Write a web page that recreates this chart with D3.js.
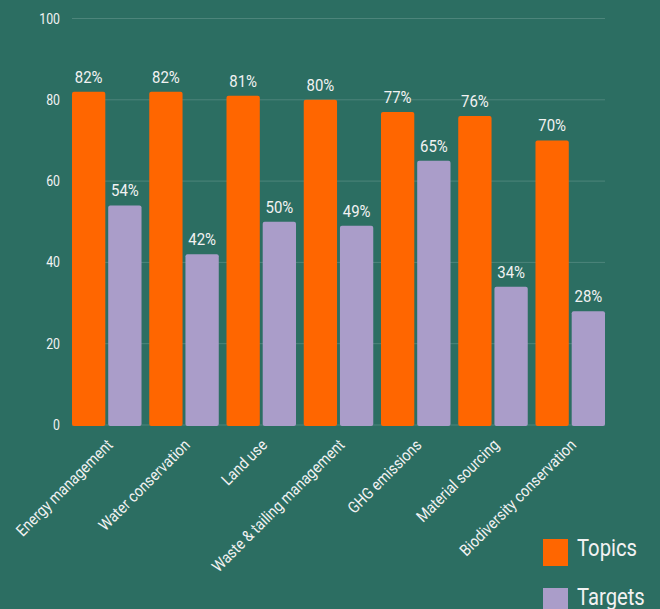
<!DOCTYPE html>
<html>
<head>
<meta charset="utf-8">
<script src="https://cdn.jsdelivr.net/npm/d3@7"></script>
<style>
  html, body { margin: 0; padding: 0; background: #2c6e62; }
  svg text { font-family: Roboto, "Noto Sans", sans-serif; fill: #f2f2f2; }
</style>
</head>
<body>
<svg id="chart" width="660" height="609"></svg>
<script>
// Topic coverage vs targets, by category
const categories = ["Energy management", "Water conservation", "Land use", "Waste & tailing management",
                    "GHG emissions", "Material sourcing", "Biodiversity conservation"];
const topics  = [82, 82, 81, 80, 77, 76, 70];
const targets = [54, 42, 50, 49, 65, 34, 28];
const seriesNames = ["Topics", "Targets"];
const yTicks = [0, 20, 40, 60, 80, 100];

const colors = { Topics: "#ff6600", Targets: "#aa9dc9" };
const squeeze = 0.88; // fake a condensed face

const svg = d3.select("#chart");
const W = 660, H = 609;
svg.append("rect").attr("width", W).attr("height", H).attr("fill", "#2c6e62");

const x0 = d3.scaleBand().domain(categories).range([72, 605]).paddingInner(0.1).paddingOuter(0);
const x1 = d3.scaleBand().domain(seriesNames).range([0, x0.bandwidth()]).paddingInner(0.08);
const y = d3.scaleLinear().domain([0, 100]).range([425, 18.5]);

// gridlines
svg.append("g").selectAll("line").data(yTicks).join("line")
    .attr("x1", 72).attr("x2", 605)
    .attr("y1", d => y(d)).attr("y2", d => y(d))
    .attr("stroke", "rgba(255,255,255,0.16)").attr("stroke-width", 1);

// y labels
svg.append("g").selectAll("text").data(yTicks).join("text")
    .attr("transform", d => `translate(60,${y(d) + 5}) scale(${squeeze},1)`)
    .attr("text-anchor", "end")
    .style("font-size", "14px")
    .text(d => d);

const rows = categories.map((c, i) => ({ cat: c, vals: [
    { key: "Topics", v: topics[i] }, { key: "Targets", v: targets[i] }] }));

const groups = svg.append("g").selectAll("g").data(rows).join("g")
    .attr("transform", d => `translate(${x0(d.cat)},0)`);

groups.selectAll("rect").data(d => d.vals).join("rect")
    .attr("x", d => x1(d.key))
    .attr("y", d => y(d.v))
    .attr("width", x1.bandwidth())
    .attr("height", d => y(0) - y(d.v) + 1)
    .attr("rx", 2)
    .attr("fill", d => colors[d.key]);

groups.selectAll("text").data(d => d.vals).join("text")
    .attr("transform", d => `translate(${x1(d.key) + x1.bandwidth() / 2},${y(d.v) - 9}) scale(${squeeze},1)`)
    .attr("text-anchor", "middle")
    .style("font-size", "17px")
    .text(d => d.v + "%");

// category labels, rotated
svg.append("g").selectAll("text").data(categories).join("text")
    .attr("transform", d => `translate(${x0(d) + x0.bandwidth() / 2 + 7},446) rotate(-45) scale(${squeeze},1)`)
    .attr("text-anchor", "end")
    .style("font-size", "16px")
    .text(d => d);

// legend
const legend = svg.append("g").selectAll("g").data(seriesNames).join("g")
    .attr("transform", (d, i) => `translate(543,${539 + i * 49})`);
legend.append("rect").attr("width", 25).attr("height", 27).attr("fill", d => colors[d]);
legend.append("text")
    .attr("transform", `translate(34,17) scale(${squeeze},1)`)
    .style("font-size", "23px")
    .text(d => d);
</script>
</body>
</html>
